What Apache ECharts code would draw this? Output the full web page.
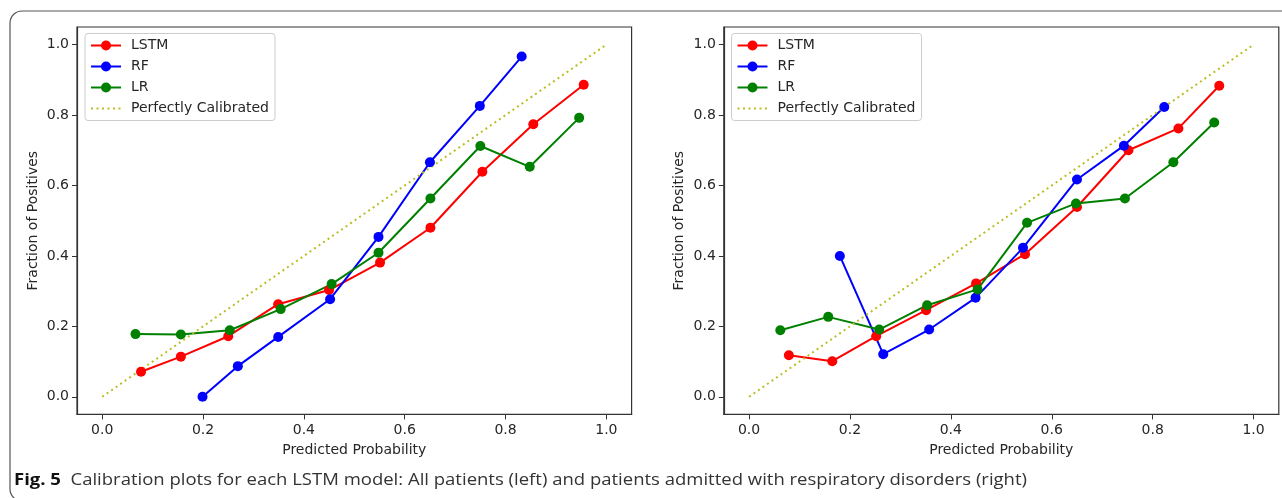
<!DOCTYPE html>
<html>
<head>
<meta charset="utf-8">
<script src="https://cdn.jsdelivr.net/npm/echarts@6/dist/echarts.min.js"></script>
<style>
html,body{margin:0;padding:0;background:#ffffff;}
#chart{width:1282px;height:498px;}
</style>
</head>
<body>
<div id="chart"></div>
<script>
// ---------- data ----------
const tickValues = [0, 0.2, 0.4, 0.6, 0.8, 1.0];
const seriesNames = ['LSTM', 'RF', 'LR', 'Perfectly Calibrated'];
const xAxisTitle = 'Predicted Probability';
const yAxisTitle = 'Fraction of Positives';
const captionBold = 'Fig. 5';
const captionText = 'Calibration plots for each LSTM model: All patients (left) and patients admitted with respiratory disorders (right)';

const perfectX = [0, 1];
const perfectY = [0, 1];

// left panel: all patients
const leftLstmX = [0.077, 0.156, 0.250, 0.349, 0.450, 0.551, 0.651, 0.754, 0.855, 0.955];
const leftLstmY = [0.071, 0.114, 0.172, 0.263, 0.303, 0.381, 0.480, 0.639, 0.774, 0.886];
const leftRfX = [0.199, 0.269, 0.349, 0.452, 0.548, 0.650, 0.749, 0.832];
const leftRfY = [0.000, 0.087, 0.170, 0.277, 0.454, 0.666, 0.826, 0.966];
const leftLrX = [0.066, 0.156, 0.253, 0.354, 0.455, 0.548, 0.651, 0.750, 0.848, 0.946];
const leftLrY = [0.178, 0.177, 0.189, 0.249, 0.320, 0.409, 0.563, 0.712, 0.653, 0.792];

// right panel: respiratory disorders
const rightLstmX = [0.079, 0.165, 0.252, 0.351, 0.450, 0.547, 0.650, 0.752, 0.851, 0.932];
const rightLstmY = [0.118, 0.101, 0.172, 0.246, 0.322, 0.405, 0.539, 0.700, 0.762, 0.883];
const rightRfX = [0.180, 0.266, 0.357, 0.449, 0.543, 0.650, 0.743, 0.823];
const rightRfY = [0.400, 0.121, 0.191, 0.281, 0.423, 0.617, 0.713, 0.823];
const rightLrX = [0.062, 0.157, 0.258, 0.353, 0.453, 0.551, 0.648, 0.745, 0.841, 0.922];
const rightLrY = [0.189, 0.227, 0.191, 0.260, 0.305, 0.494, 0.549, 0.563, 0.666, 0.779];

// ---------- build ----------
const FONT = 'DejaVu Sans';
const TXT = '#262626';
const AX = '#333333';
const colors = {LSTM: '#ff0000', RF: '#0000ff', LR: '#008000', 'Perfectly Calibrated': '#bcbd22'};

function pairs(xs, ys) { return xs.map((x, i) => [x, ys[i]]); }

function markerSeries(name, xs, ys, gi) {
  return {
    type: 'line', name: name, xAxisIndex: gi, yAxisIndex: gi,
    data: pairs(xs, ys),
    symbol: 'circle', symbolSize: 10, showSymbol: true,
    lineStyle: {color: colors[name], width: 2},
    itemStyle: {color: colors[name]},
    emphasis: {disabled: true}, silent: true
  };
}
function perfectSeries(gi) {
  return {
    type: 'line', name: 'Perfectly Calibrated', xAxisIndex: gi, yAxisIndex: gi,
    data: pairs(perfectX, perfectY),
    symbol: 'none', showSymbol: false,
    lineStyle: {color: colors['Perfectly Calibrated'], width: 2, type: [2, 3.5]},
    itemStyle: {color: colors['Perfectly Calibrated']},
    emphasis: {disabled: true}, silent: true
  };
}
function mkX(gi) {
  return {
    type: 'value', gridIndex: gi, min: -0.05, max: 1.05,
    name: xAxisTitle, nameLocation: 'middle', nameGap: 29,
    nameTextStyle: {fontFamily: FONT, fontSize: 14, color: TXT},
    axisLine: {show: true, onZero: false, lineStyle: {color: AX, width: 1.2}},
    axisTick: {show: true, length: 5, customValues: tickValues, lineStyle: {color: AX, width: 1}},
    axisLabel: {customValues: tickValues, formatter: v => v.toFixed(1), margin: 9,
      fontFamily: FONT, fontSize: 14, color: TXT},
    splitLine: {show: false}
  };
}
function mkY(gi) {
  return {
    type: 'value', gridIndex: gi, min: -0.05, max: 1.05,
    name: yAxisTitle, nameLocation: 'middle', nameGap: 37,
    nameTextStyle: {fontFamily: FONT, fontSize: 14, color: TXT},
    axisLine: {show: true, onZero: false, lineStyle: {color: AX, width: 1.2}},
    axisTick: {show: true, length: 5, customValues: tickValues, lineStyle: {color: AX, width: 1}},
    axisLabel: {customValues: tickValues, formatter: v => v.toFixed(1), margin: 8,
      fontFamily: FONT, fontSize: 14, color: TXT},
    splitLine: {show: false}
  };
}
function mkLegend(left) {
  return {
    left: left, top: 33.5, orient: 'vertical',
    data: seriesNames.map(n => n === 'Perfectly Calibrated'
      ? {name: n, itemStyle: {opacity: 0}} : {name: n}),
    itemWidth: 30, itemHeight: 12.5, itemGap: 7,
    padding: [5, 6, 5, 5],
    backgroundColor: 'rgba(255,255,255,0.8)', borderColor: '#cccccc', borderWidth: 1, borderRadius: 3,
    textStyle: {fontFamily: FONT, fontSize: 14, color: TXT, padding: [0, 0, 0, 5]},
    selectedMode: false
  };
}

// caption width scaling (to mimic a condensed face)
const capFont = 'Open Sans';
const capSize = 16;
const cv = document.createElement('canvas').getContext('2d');
cv.font = 'bold ' + capSize + 'px "' + capFont + '"';
const wBold = cv.measureText(captionBold + '  ').width;
cv.font = capSize + 'px "' + capFont + '"';
const wRest = cv.measureText(captionText).width;
const capScale = 1013 / (wBold + wRest);

const chart = echarts.init(document.getElementById('chart'), null, {renderer: 'canvas'});
chart.setOption({
  animation: false,
  backgroundColor: '#ffffff',
  grid: [
    {left: 77, top: 27, width: 554.6, height: 387.4, show: true, borderColor: AX, borderWidth: 1.2,
     backgroundColor: 'transparent', containLabel: false, outerBoundsMode: 'none'},
    {left: 723.8, top: 27, width: 555, height: 387.4, show: true, borderColor: AX, borderWidth: 1.2,
     backgroundColor: 'transparent', containLabel: false, outerBoundsMode: 'none'}
  ],
  xAxis: [mkX(0), mkX(1)],
  yAxis: [mkY(0), mkY(1)],
  legend: [mkLegend(85), mkLegend(731.5)],
  series: [
    markerSeries('LSTM', leftLstmX, leftLstmY, 0),
    markerSeries('RF', leftRfX, leftRfY, 0),
    markerSeries('LR', leftLrX, leftLrY, 0),
    perfectSeries(0),
    markerSeries('LSTM', rightLstmX, rightLstmY, 1),
    markerSeries('RF', rightRfX, rightRfY, 1),
    markerSeries('LR', rightLrX, rightLrY, 1),
    perfectSeries(1)
  ],
  graphic: [
    {type: 'rect', silent: true, shape: {x: 10, y: 11, width: 1300, height: 490, r: 12},
     style: {fill: 'none', stroke: '#555555', lineWidth: 1.2}},
    {type: 'text', silent: true, x: 14, y: 480, scaleX: capScale, scaleY: 1,
     style: {x: 0, y: 0, text: '{b|' + captionBold + '}  ' + captionText,
       fontFamily: capFont, fontSize: capSize, fill: '#333333', verticalAlign: 'middle',
       rich: {b: {fontFamily: capFont, fontSize: capSize, fontWeight: 'bold', fill: '#111111'}}}}
  ]
});
</script>
</body>
</html>
